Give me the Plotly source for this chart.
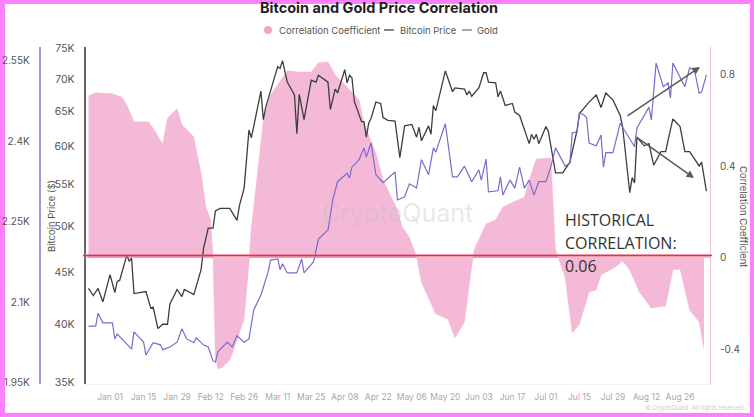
import math
import pandas as pd
import plotly.graph_objects as go

W=754
H=417

# everything is days since 2024-01-01
corr_days=[-9,-6,1,5,7,10,16,19,20,22,24,28,30,35,36,38,40,42,43,44,45,47,50,52,56,58,59,60,64,67,74,79,84,87,91,94,99,104,106,111,114,120,122,125,128,130,136,141,144,148,150,152,157,161,164,173,176,178,184,185,186,190,193,196,200,203,205,211,214,217,221,226,232,235,238,242,246,248]
corr_vals=[.706,.72,.715,.70,.667,.593,.593,.55,.53,.497,.61,.65,.58,.527,.47,.37,.222,.166,.004,-.431,-.484,-.475,-.444,-.388,-.266,-.026,.135,.222,.60,.71,.815,.81,.81,.85,.854,.797,.745,.688,.588,.457,.34,.21,.135,.09,.004,-.105,-.244,-.266,-.349,-.279,-.113,.035,.148,.166,.222,.266,.37,.431,.436,.209,.035,-.083,-.327,-.288,-.148,-.139,-.074,-.039,-.013,-.052,-.148,-.218,-.209,-.052,-.048,-.227,-.279,-.397]

btc_days=[-9,-7,-5,-3,0,2,3,4,7,8,9,10,15,17,18,20,22,24,25,28,30,31,35,38,39,41,43,44,46,50,53,54,56,58,59,63,64,65,70,71,72,74,77,78,79,81,84,86,87,91,92,94,95,98,99,100,101,102,105,106,107,108,109,111,113,114,116,119,121,123,126,128,129,130,133,134,135,136,140,143,144,148,149,150,151,154,156,157,158,161,162,163,165,168,169,171,175,176,177,178,179,182,183,186,189,192,195,196,200,203,205,207,210,213,214,217,218,219,220,223,225,227,230,232,233,235,238,240,242,246,247,249]
btc_vals=[43.4,42.7,43.4,42.1,44.8,43.0,44.1,44.2,46.8,46.2,46.5,42.9,43.1,41.5,41.6,39.6,40.0,40.0,41.9,43.3,42.6,43.3,42.8,45.3,47.5,49.8,49.8,51.8,52.1,52.1,50.7,52.4,54.6,62.3,61.2,68.1,63.8,65.6,72.0,71.7,73.0,69.5,67.5,61.8,67.6,63.8,69.8,69.5,70.6,69.5,65.3,68.4,67.8,71.5,69.4,70.6,70.2,66.5,63.5,63.5,61.3,63.3,64.0,66.4,66.2,64.1,63.7,63.6,58.5,62.9,63.1,61.3,62.7,60.8,62.9,61.7,65.9,65.1,71.3,68.0,68.6,68.4,67.5,68.1,67.3,68.6,71.0,71.0,69.5,69.4,67.2,68.1,65.9,66.2,64.9,64.4,60.4,61.7,61.0,61.7,60.4,62.8,62.1,56.5,56.5,57.9,62.3,64.7,66.4,67.5,65.6,67.8,66.7,64.4,62.8,54.0,55.9,55.2,61.3,60.1,60.4,57.5,59.3,59.3,60.9,63.9,62.8,59.3,59.3,57.4,57.9,54.2]

gold_days=[-9,-6,-5,-3,1,2,3,6,9,10,14,15,18,21,22,25,28,30,32,35,36,39,41,43,44,45,49,51,53,56,58,60,63,66,67,70,71,72,74,78,80,81,84,85,87,91,93,95,99,100,101,104,106,107,109,111,114,119,120,123,125,128,130,133,135,136,140,143,145,148,151,154,155,157,158,162,163,164,167,169,171,173,175,177,179,182,184,186,190,192,193,195,196,198,199,200,203,205,206,207,210,213,219,220,225,226,228,231,233,234,235,240,242,244,246,247,249]
gold_vals=[2056,2056,2080,2062,2062,2032,2041,2026,2013,2045,2026,2002,2025,2021,2012,2017,2026,2051,2032,2025,2034,2021,2017,1991,1989,2008,2026,2017,2038,2026,2032,2086,2114,2157,2179,2181,2161,2172,2155,2155,2181,2155,2172,2176,2218,2235,2291,2325,2341,2332,2352,2366,2388,2371,2397,2338,2323,2343,2291,2297,2321,2313,2366,2338,2388,2380,2433,2334,2334,2354,2325,2347,2328,2367,2306,2308,2334,2300,2328,2313,2352,2313,2328,2300,2325,2325,2352,2388,2354,2360,2416,2418,2453,2449,2444,2397,2392,2412,2352,2379,2379,2434,2390,2425,2464,2440,2546,2502,2509,2481,2546,2502,2537,2533,2490,2492,2524]

date_ticks=['2024-01-01','2024-01-15','2024-01-29','2024-02-12','2024-02-26','2024-03-11','2024-03-25','2024-04-08','2024-04-22','2024-05-06','2024-05-20','2024-06-03','2024-06-17','2024-07-01','2024-07-15','2024-07-29','2024-08-12','2024-08-26']
btc_ticks=[35000,40000,45000,50000,55000,60000,65000,70000,75000]
btc_labels=['35K','40K','45K','50K','55K','60K','65K','70K','75K']
gold_ticks=[1950,2100,2250,2400,2550]
gold_labels=['1.95K','2.1K','2.25K','2.4K','2.55K']
corr_ticks=[-0.4,0,0.4,0.8]
corr_labels=['-0.4','0','0.4','0.8']

PINK='#f4b9d6'
BLACK='#3d3d3d'
PURPLE='#7b6bcb'
FRAME='#ff80ff'
FONT='Inter, Roboto, sans-serif'


def to_dates(days):
    return pd.Timestamp('2024-01-01')+pd.to_timedelta(days,unit='D')

def px(x):
    return x/W

def py(y):
    return 1-y/H

def label(x,y,text,size=10,color='#555555',anchor='center',angle=0,family=FONT,align='left'):
    return dict(xref='paper',yref='paper',x=px(x),y=py(y),text=text,showarrow=False,xanchor=anchor,yanchor='middle',
                textangle=angle,align=align,font=dict(size=size,color=color,family=family))

def arrow(x0,y0,x1,y1):
    return dict(xref='paper',yref='paper',x=px(x1),y=py(y1),ax=x0-x1,ay=y0-y1,axref='pixel',ayref='pixel',text='',
                showarrow=True,arrowhead=2,arrowsize=1,arrowwidth=1.5,arrowcolor='#5a5a5a')

def swatch(x0,x1,y,color):
    return dict(type='line',xref='paper',yref='paper',x0=px(x0),x1=px(x1),y0=py(y),y1=py(y),line=dict(color=color,width=1.3))


fig=go.Figure()
fig.add_trace(go.Scatter(x=to_dates(corr_days),y=corr_vals,yaxis='y',mode='lines',fill='tozeroy',fillcolor=PINK,
                         line=dict(color=PINK,width=0.5),name='Correlation Coefficient'))
fig.add_trace(go.Scatter(x=to_dates(gold_days),y=gold_vals,yaxis='y3',mode='lines',line=dict(color=PURPLE,width=1.2),name='Gold'))
fig.add_trace(go.Scatter(x=to_dates(btc_days),y=[v*1000 for v in btc_vals],yaxis='y2',mode='lines',line=dict(color=BLACK,width=1.3),name='Bitcoin Price'))

shapes=[
    dict(type='rect',xref='paper',yref='paper',x0=px(5),x1=px(750),y0=py(413),y1=py(4),fillcolor='white',line=dict(width=0),layer='below'),
    dict(type='line',xref='x',yref='paper',x0='2023-12-21 08:00',x1='2024-09-07 12:00',y0=py(256),y1=py(256),line=dict(color='rgba(250,130,160,0.55)',width=4)),
    dict(type='line',xref='paper',yref='paper',x0=px(83),x1=px(712),y0=py(255.5),y1=py(255.5),line=dict(color='#d23a44',width=1.6)),
    swatch(384,394,30,'#444444'),
    swatch(462,472,30,'#777777'),
    dict(type='circle',xref='paper',yref='paper',x0=px(264),x1=px(272),y0=py(34),y1=py(26),fillcolor='#eaa6c8',line=dict(width=0)),
]

annotations=[
    label(379,8,'<b>Bitcoin and Gold Price Correlation</b>',size=14.5,color='#1f1f1f'),
    label(277,30,'Correlation Coefficient',size=9.5,anchor='left'),
    label(398,30,'Bitcoin Price',size=9.5,anchor='left'),
    label(475,30,'Gold',size=9.5,anchor='left'),
    label(51,216,'Bitcoin Price ($)',size=9.5,angle=-90),
    label(744,216,'Correlation Coefficient',size=9.5,angle=90),
    label(397,213,'CryptoQuant',size=25,color='rgba(190,190,190,0.35)'),
    label(563,220,'HISTORICAL',size=16,color='#333333',anchor='left',family='Open Sans, sans-serif'),
    label(563,243,'CORRELATION:',size=16,color='#333333',anchor='left',family='Open Sans, sans-serif'),
    label(563,266,'0.06',size=16,color='#333333',anchor='left',family='Open Sans, sans-serif'),
    label(748,408,'© CryptoQuant. All rights reserved.',size=6,color='#cccccc',anchor='right'),
    arrow(626,117,700,67),
    arrow(635,136,694,178),
]

fig.update_layout(
    width=W,height=H,margin=dict(l=0,r=0,t=0,b=0,autoexpand=False),autosize=False,
    paper_bgcolor=FRAME,plot_bgcolor='rgba(0,0,0,0)',showlegend=False,
    font=dict(family=FONT,size=10,color='#555555'),
    shapes=shapes,annotations=annotations,
    xaxis=dict(domain=[px(84.5),px(710)],range=['2023-12-21 08:00','2024-09-07 12:00'],tickvals=date_ticks,tickformat='%b %d',
               showgrid=False,zeroline=False,showline=True,linecolor='#f0f0f0',ticks='outside',ticklen=5,tickcolor='rgba(0,0,0,0)',
               tickfont=dict(size=8.5,color='#a8a8a8')),
    yaxis=dict(domain=[py(384),py(47)],range=[-0.549,0.919],side='right',tickvals=corr_ticks,ticktext=corr_labels,
               showgrid=False,zeroline=False,showline=True,linecolor='#e6c3d3',linewidth=1,ticks='outside',ticklen=7,tickcolor='rgba(0,0,0,0)',
               tickfont=dict(size=10,color='#555555')),
    yaxis2=dict(overlaying='y',anchor='free',position=px(84.5),side='left',type='log',range=[math.log10(34900),math.log10(75300)],
                tickvals=btc_ticks,ticktext=btc_labels,showgrid=False,zeroline=False,showline=True,linecolor='#666666',linewidth=1.5,
                ticks='outside',ticklen=7,tickcolor='rgba(0,0,0,0)',tickfont=dict(size=10.5,color='#555555')),
    yaxis3=dict(overlaying='y',anchor='free',position=px(39.5),side='left',range=[1948,2576],
                tickvals=gold_ticks,ticktext=gold_labels,showgrid=False,zeroline=False,showline=True,linecolor='#9a9ae0',linewidth=1.5,
                ticks='outside',ticklen=7,tickcolor='rgba(0,0,0,0)',tickfont=dict(size=10,color='#555555')),
)

fig.write_html("out.html",config=dict(displayModeBar=False),post_script="document.body.style.margin='0';document.body.style.overflow='hidden';")
